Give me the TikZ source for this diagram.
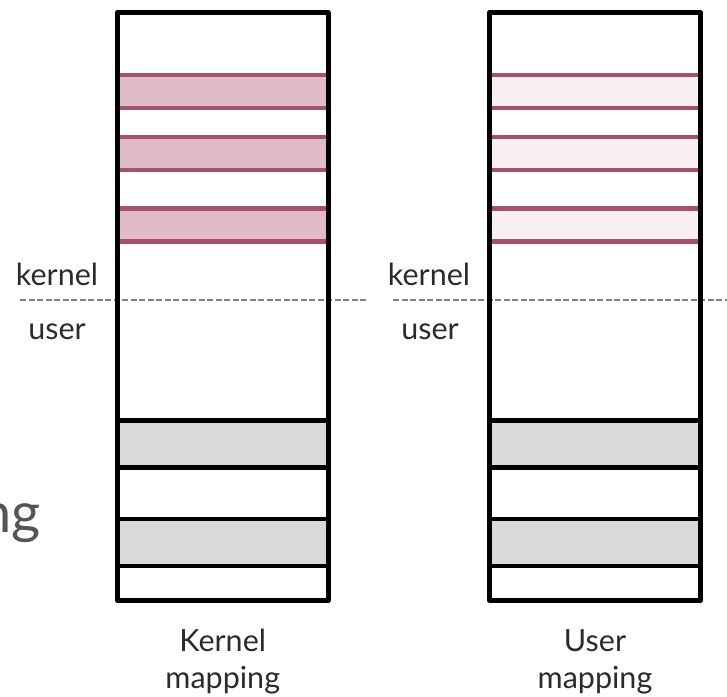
\documentclass[tikz,border=0pt]{standalone}
\usepackage{fontspec}
\setmainfont{Lato}
\usetikzlibrary{positioning,backgrounds}

\definecolor{bandline}{HTML}{A8506E}
\definecolor{kernfill}{HTML}{DFBCC8}
\definecolor{userfill}{HTML}{F7EFF2}
\definecolor{pagefill}{HTML}{D9D9D9}
\definecolor{divgray}{HTML}{808080}
\definecolor{textgray}{HTML}{2B2B2B}

\tikzset{
    membox/.style={draw, line width=4.6pt, line join=round, minimum width=211pt, minimum height=588pt, inner sep=0pt},
    kband/.style={draw=bandline, line width=4.6pt, minimum width=211pt, minimum height=33pt, inner sep=0pt},
    pband/.style={draw, line width=4.6pt, fill=pagefill, minimum width=211pt, minimum height=47pt, inner sep=0pt},
    divider/.style={draw=divgray, line width=2.4pt, dash pattern=on 6pt off 2.5pt},
    side/.style={font=\fontsize{30.5}{34}\selectfont, text=textgray, anchor=base},
    caption/.style={font=\fontsize{30.5}{37}\selectfont, text=textgray, align=center}
}

\begin{document}
\begin{tikzpicture}[x=1pt, y=-1pt]
    \useasboundingbox (0,0) rectangle (727,696);
    \clip (0,0) rectangle (727,696);

    \node [membox] (kbox) at (222.75,306.5) {};
    \node [membox] (ubox) at (595,306.5) {};

    \begin{scope}[on background layer]
        \foreach \y [count=\i] in {91.3,153.3,224.8} {
            \node [kband, fill=kernfill] (kband\i) at (kbox |- 0,\y) {};
            \node [kband, fill=userfill] (uband\i) at (ubox |- 0,\y) {};
        }
        \foreach \y [count=\i] in {444.2,542.5} {
            \node [pband] (kpage\i) at (kbox |- 0,\y) {};
            \node [pband] (upage\i) at (ubox |- 0,\y) {};
        }
        \coordinate (kdivl) at (20,300);
        \coordinate (kdivr) at (367,300);
        \coordinate (udivl) at (393,300);
        \coordinate (udivr) at (727,300);
        \draw [divider] (kdivl) -- (kdivr);
        \draw [divider] (udivl) -- (udivr);
    \end{scope}

    \node [side] (kkern) at (57,285) {kernel};
    \node [side] (kuser) at (57,339) {user};
    \node [side] (ukern) at (429,285) {kernel};
    \node [side] (uuser) at (430,339) {user};

    \node [caption, below=23pt of kbox] (kcap) {Kernel\\mapping};
    \node [caption, below=23pt of ubox] (ucap) {User\\mapping};

    \node [font=\fontsize{56}{60}\selectfont, text=textgray!80, anchor=base east, inner sep=0pt] (cut) at (41,532) {ng};
\end{tikzpicture}
\end{document}
